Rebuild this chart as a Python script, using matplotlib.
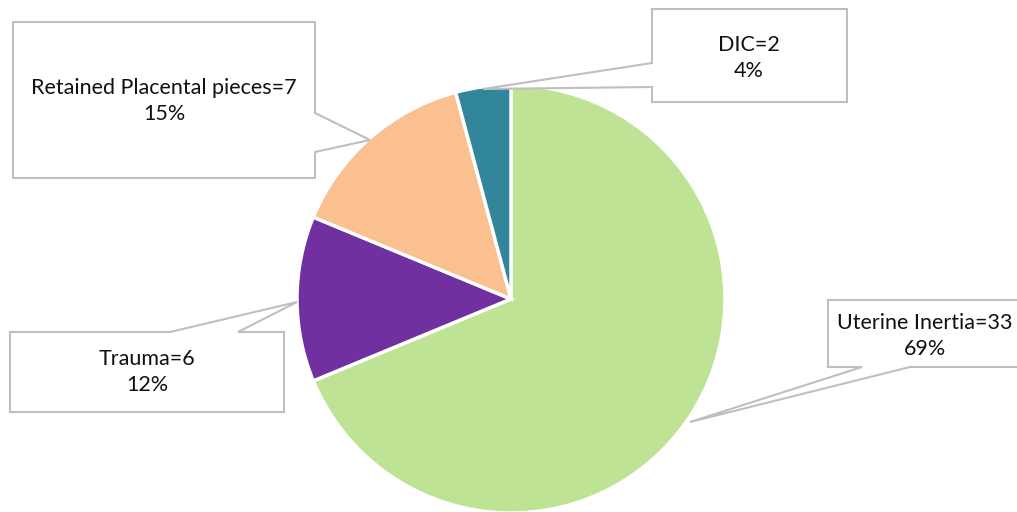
import matplotlib.pyplot as plt
from matplotlib.patches import Polygon

# data
causes = ['Uterine Inertia', 'Trauma', 'Retained Placental pieces', 'DIC']
counts = [33, 6, 7, 2]
pct_labels = ['69%', '12%', '15%', '4%']
colors = ['#BEE395', '#7030A0', '#FAC090', '#31869B']

plt.rcParams['font.family'] = ['Lato', 'DejaVu Sans']

fig = plt.figure(figsize=(10.17, 5.12), dpi=100)
ax = fig.add_axes([0, 0, 1, 1])

# pixel coords, y down -> data angles are mirrored, so go counterclock from -90
ax.pie(counts, colors=colors, startangle=-90, counterclock=True,
       center=(511, 299), radius=214, frame=True,
       wedgeprops=dict(edgecolor='white', linewidth=2.5))

ax.set_xlim(0, 1017)
ax.set_ylim(512, 0)
ax.set_aspect('equal')
ax.axis('off')

# callout boxes: rectangle with a pointer inserted into one side
def bubble(x0, y0, x1, y1, side, a, b, tip):
    if side == 'right':
        pts = [(x0, y0), (x1, y0), (x1, a), tip, (x1, b), (x1, y1), (x0, y1)]
    elif side == 'left':
        pts = [(x0, y0), (x1, y0), (x1, y1), (x0, y1), (x0, b), tip, (x0, a)]
    elif side == 'top':
        pts = [(x0, y0), (a, y0), tip, (b, y0), (x1, y0), (x1, y1), (x0, y1)]
    else:
        pts = [(x0, y0), (x1, y0), (x1, y1), (b, y1), tip, (a, y1), (x0, y1)]
    ax.add_patch(Polygon(pts, closed=True, facecolor='white',
                         edgecolor='#BFBFBF', linewidth=1.5, zorder=5))

boxes = {
    'Uterine Inertia': ((828, 300, 1040, 367), 'bottom', 862, 910, (690, 422), (925, 336)),
    'Trauma': ((10, 332, 284, 412), 'top', 170, 238, (297, 302), (147, 372)),
    'Retained Placental pieces': ((13, 22, 315, 178), 'right', 113, 152, (370, 140), (164, 101)),
    'DIC': ((652, 9, 847, 102), 'left', 63, 87, (483, 89), (749, 58)),
}

for name, n, p in zip(causes, counts, pct_labels):
    rect, side, a, b, tip, txt = boxes[name]
    bubble(*rect, side, a, b, tip)
    ax.text(txt[0], txt[1], f'{name}={n}\n{p}', ha='center', va='center',
            fontsize=15.5, color='#111111', linespacing=1.38, zorder=6)

fig.savefig('out.png', dpi=100)
